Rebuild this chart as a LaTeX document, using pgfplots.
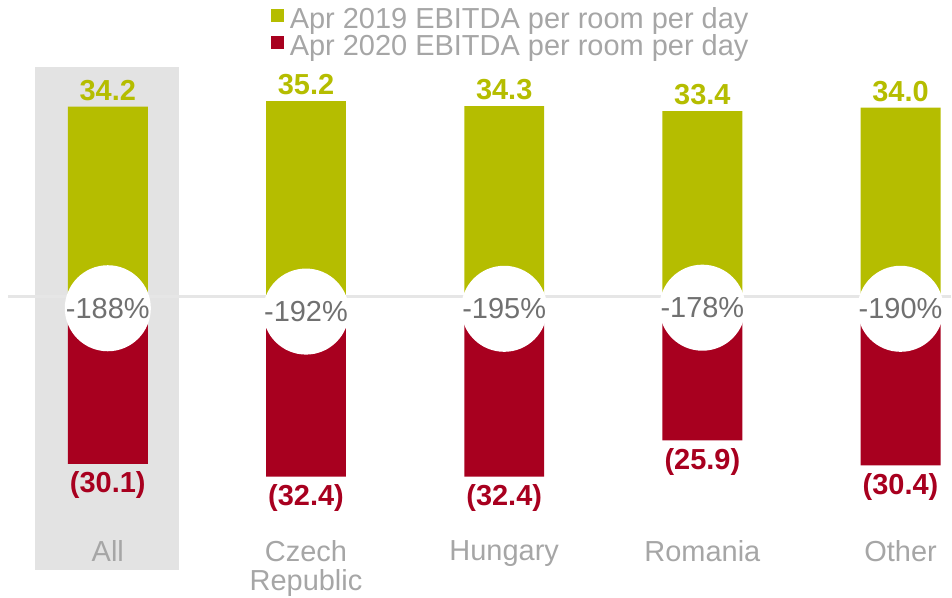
\documentclass[border=0pt]{standalone}
\usepackage{pgfplots}
\pgfplotsset{compat=1.18}
\usepackage{fontspec}
\setmainfont{Liberation Sans}
\definecolor{barGreen}{HTML}{B5BD00}
\definecolor{barRed}{HTML}{A8001F}
\definecolor{labGray}{HTML}{A6A6A6}
\definecolor{pctGray}{HTML}{707070}
\definecolor{bgGray}{HTML}{E3E3E3}
\definecolor{lineGray}{HTML}{E6E6E6}
\newcommand{\bigfont}{\fontsize{29}{29}\selectfont}

\begin{document}
\begin{tikzpicture}
\begin{axis}[
    set layers,
    scale only axis,
    width=952pt, height=598pt,
    xmin=-0.544, xmax=4.252,
    ymin=-54.1, ymax=53.4,
    axis lines=none,
    clip=false,
    legend style={at={(0.2847,0.9887)}, anchor=north west, draw=none, fill=none,
        font=\fontsize{29}{28}\selectfont, text=labGray, inner sep=0pt, row sep=2.5pt, column sep=5pt,
        nodes={inner sep=1pt}},
    legend cell align=left,
]
\path (rel axis cs:0,0) rectangle (rel axis cs:1,1);
\begin{pgfonlayer}{axis background}
\fill[bgGray] (axis cs:-0.368,41.4) rectangle (axis cs:0.358,-49.3);
\draw[lineGray, line width=3pt] (axis cs:-0.504,0) -- (axis cs:4.252,0);
\end{pgfonlayer}

% Apr 2019
\addplot[ybar, bar width=80pt, bar shift=0pt, fill=barGreen, draw=none,
    nodes near coords, point meta=explicit symbolic,
    nodes near coords style={anchor=south, font=\bfseries\bigfont, text=barGreen, inner sep=6pt},
    legend image code/.code={\fill[barGreen] (0pt,-3pt) rectangle (13pt,10pt);}]
coordinates {(0,34.2)[34.2] (1,35.2)[35.2] (2,34.3)[34.3] (3,33.4)[33.4] (4,34.0)[34.0]};
\addlegendentry{Apr 2019 EBITDA per room per day}

% Apr 2020
\addplot[ybar, bar width=80pt, bar shift=0pt, fill=barRed, draw=none,
    nodes near coords, point meta=explicit symbolic,
    nodes near coords style={anchor=north, font=\bfseries\bigfont, text=barRed, inner sep=8pt},
    legend image code/.code={\fill[barRed] (0pt,-3pt) rectangle (13pt,10pt);}]
coordinates {(0,-30.1)[(30.1)] (1,-32.4)[(32.4)] (2,-32.4)[(32.4)] (3,-25.9)[(25.9)] (4,-30.4)[(30.4)]};
\addlegendentry{Apr 2020 EBITDA per room per day}

% change circles
\addplot[forget plot, only marks, mark=none,
    nodes near coords, point meta=explicit symbolic,
    nodes near coords style={circle, fill=white, minimum size=80pt,
        inner sep=0pt, anchor=center, text=pctGray, font=\bigfont}]
coordinates {(0,-2.1)[-188\%] (1,-2.7)[-192\%] (2,-2.2)[-195\%] (3,-2.0)[-178\%] (4,-2.2)[-190\%]};

% category labels
\addplot[forget plot, only marks, mark=none,
    nodes near coords, point meta=explicit symbolic,
    nodes near coords style={anchor=north, align=center, inner sep=0pt, text=labGray, font=\bigfont}]
coordinates {(0,-43.9)[All] (1,-43.9)[Czech\\Republic] (2,-43.9)[Hungary] (3,-43.9)[Romania] (4,-43.9)[Other]};
\end{axis}
\end{tikzpicture}
\end{document}
